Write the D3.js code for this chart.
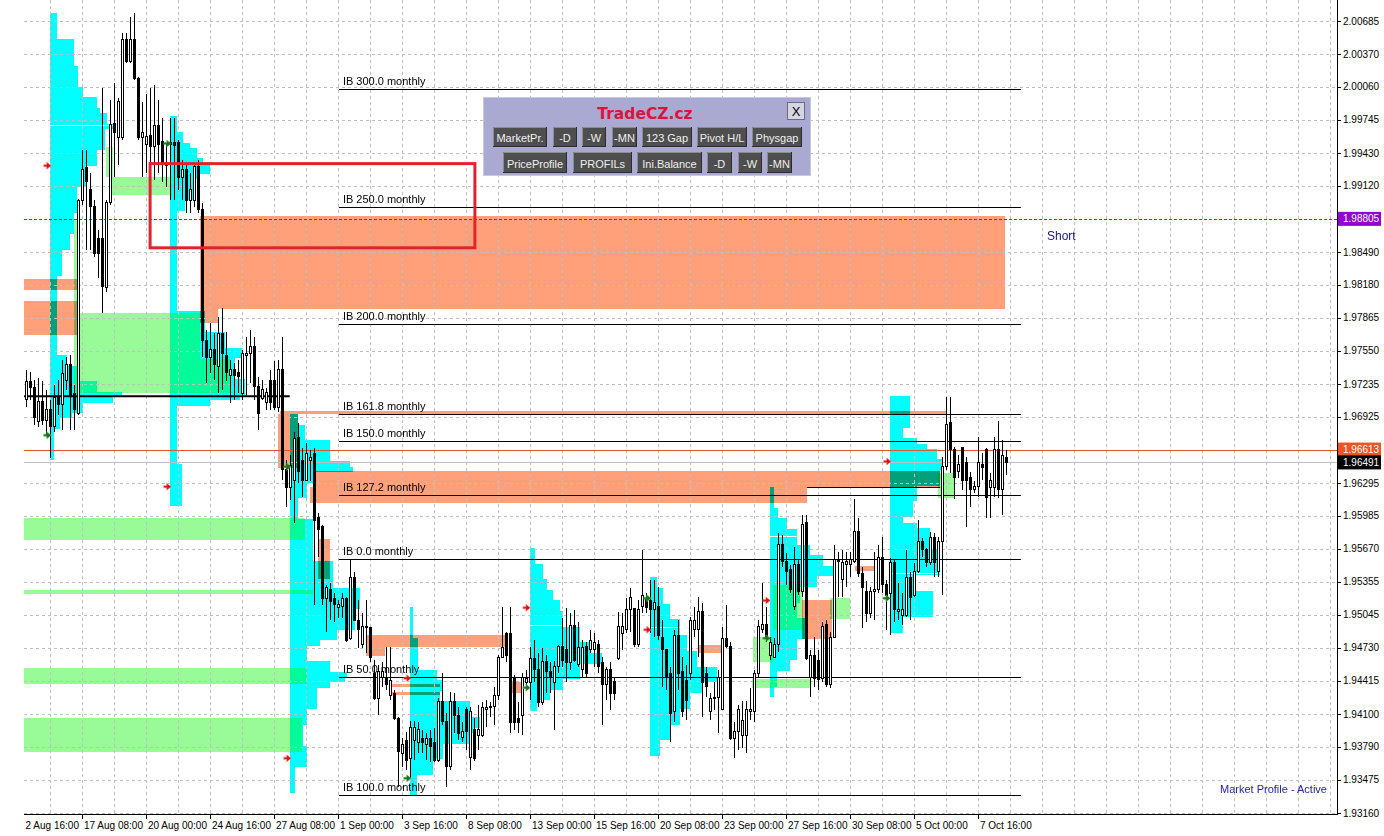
<!DOCTYPE html>
<html><head><meta charset="utf-8">
<script src="https://cdn.jsdelivr.net/npm/d3@7/dist/d3.min.js"></script>
<style>
html,body{margin:0;padding:0;background:#fff;}
svg{display:block;font-family:"Liberation Sans",Arial,sans-serif;}
</style></head><body>
<svg id="chart" width="1384" height="836"></svg>
<script>
// ---------------- DATA ----------------
const openP = [
1.9709,1.9726,1.9720,1.9688,1.9707,1.9689,1.9699,1.9683,1.9711,1.9704,
1.9727,1.9742,1.9715,1.9696,1.9898,1.9929,1.9908,1.9892,1.9862,1.9862,
1.9815,1.9896,1.9971,1.9958,1.9958,2.0051,2.0030,2.0051,2.0014,1.9958,
1.9951,1.9960,1.9949,1.9969,1.9954,1.9934,1.9953,1.9953,1.9953,1.9920,
1.9927,1.9898,1.9898,1.9930,1.9889,1.9765,1.9749,1.9756,1.9740,1.9772,
1.9751,1.9732,1.9737,1.9735,1.9715,1.9751,1.9753,1.9759,1.9721,1.9710,
1.9706,1.9727,1.9727,1.9701,1.9737,1.9642,1.9625,1.9632,1.9673,1.9651,
1.9632,1.9651,1.9658,1.9597,1.9588,1.9520,1.9528,1.9520,1.9511,1.9512,
1.9520,1.9482,1.9540,1.9499,1.9476,1.9493,1.9492,1.9449,1.9425,1.9445,
1.9445,1.9428,1.9430,1.9406,1.9373,1.9385,1.9368,1.9385,1.9383,1.9387,
1.9381,1.9387,1.9383,1.9366,1.9422,1.9403,1.9360,1.9422,1.9409,1.9388,
1.9414,1.9369,1.9395,1.9390,1.9390,1.9414,1.9416,1.9417,1.9428,1.9464,
1.9487,1.9487,1.9445,1.9406,1.9409,1.9440,1.9440,1.9463,1.9452,1.9421,
1.9460,1.9450,1.9440,1.9455,1.9474,1.9471,1.9459,1.9494,1.9457,1.9452,
1.9474,1.9471,1.9471,1.9476,1.9459,1.9438,1.9452,1.9441,1.9463,1.9487,
1.9490,1.9509,1.9510,1.9476,1.9512,1.9520,1.9518,1.9509,1.9512,1.9483,
1.9471,1.9449,1.9412,1.9485,1.9450,1.9442,1.9449,1.9490,1.9490,1.9507,
1.9449,1.9412,1.9425,1.9426,1.9414,1.9482,1.9474,1.9387,1.9393,1.9390,
1.9390,1.9412,1.9412,1.9449,1.9490,1.9495,1.9466,1.9464,1.9476,1.9571,
1.9555,1.9547,1.9512,1.9552,1.9526,1.9592,1.9445,1.9466,1.9461,1.9444,
1.9495,1.9438,1.9483,1.9557,1.9538,1.9552,1.9552,1.9555,1.9583,1.9544,
1.9526,1.9506,1.9526,1.9528,1.9559,1.9533,1.9525,1.9554,1.9507,1.9504,
1.9504,1.9540,1.9523,1.9545,1.9574,1.9566,1.9554,1.9578,1.9545,1.9574,
1.9645,1.9687,1.9661,1.9640,1.9663,1.9649,1.9635,1.9623,1.9626,1.9647,
1.9661,1.9625,1.9625,1.9661,1.9623,1.9654];
const highP = [
1.9737,1.9735,1.9727,1.9729,1.9726,1.9718,1.9708,1.9723,1.9727,1.9746,
1.9749,1.9751,1.9723,1.9899,1.9946,1.9946,1.9924,1.9898,1.9870,2.0005,
1.9898,1.9993,2.0010,1.9995,2.0057,2.0057,2.0072,2.0076,2.0015,1.9992,
1.9999,2.0005,2.0008,1.9993,1.9976,1.9953,1.9976,1.9976,1.9955,1.9936,
1.9934,1.9924,1.9934,1.9936,1.9896,1.9775,1.9782,1.9772,1.9787,1.9796,
1.9773,1.9746,1.9744,1.9746,1.9756,1.9768,1.9775,1.9768,1.9730,1.9727,
1.9720,1.9737,1.9745,1.9746,1.9768,1.9651,1.9656,1.9678,1.9687,1.9663,
1.9668,1.9661,1.9663,1.9601,1.9590,1.9533,1.9535,1.9525,1.9518,1.9525,
1.9521,1.9556,1.9545,1.9518,1.9506,1.9518,1.9493,1.9461,1.9457,1.9459,
1.9474,1.9474,1.9433,1.9407,1.9387,1.9393,1.9403,1.9403,1.9402,1.9395,
1.9392,1.9395,1.9397,1.9425,1.9449,1.9411,1.9431,1.9430,1.9417,1.9402,
1.9417,1.9417,1.9406,1.9419,1.9421,1.9423,1.9421,1.9436,1.9466,1.9512,
1.9488,1.9512,1.9447,1.9421,1.9449,1.9452,1.9474,1.9480,1.9468,1.9473,
1.9466,1.9459,1.9460,1.9476,1.9501,1.9511,1.9506,1.9509,1.9497,1.9480,
1.9478,1.9490,1.9487,1.9480,1.9464,1.9455,1.9459,1.9445,1.9507,1.9506,
1.9520,1.9530,1.9511,1.9518,1.9566,1.9525,1.9537,1.9537,1.9531,1.9499,
1.9471,1.9455,1.9490,1.9499,1.9464,1.9457,1.9502,1.9512,1.9521,1.9516,
1.9455,1.9430,1.9440,1.9452,1.9493,1.9514,1.9478,1.9402,1.9419,1.9422,
1.9422,1.9435,1.9452,1.9499,1.9535,1.9512,1.9483,1.9482,1.9582,1.9580,
1.9563,1.9552,1.9569,1.9556,1.9599,1.9599,1.9471,1.9483,1.9471,1.9497,
1.9499,1.9488,1.9571,1.9564,1.9566,1.9564,1.9564,1.9614,1.9596,1.9550,
1.9536,1.9531,1.9564,1.9571,1.9578,1.9537,1.9558,1.9556,1.9535,1.9525,
1.9566,1.9545,1.9554,1.9594,1.9577,1.9568,1.9583,1.9582,1.9578,1.9654,
1.9711,1.9711,1.9664,1.9656,1.9664,1.9654,1.9640,1.9631,1.9673,1.9658,
1.9663,1.9639,1.9673,1.9688,1.9670,1.9661];
const lowP = [
1.9702,1.9708,1.9685,1.9683,1.9685,1.9675,1.9653,1.9678,1.9694,1.9680,
1.9718,1.9680,1.9680,1.9694,1.9894,1.9851,1.9851,1.9844,1.9824,1.9791,
1.9811,1.9894,1.9920,1.9932,1.9955,2.0029,2.0029,2.0012,1.9955,1.9920,
1.9924,1.9934,1.9917,1.9924,1.9916,1.9911,1.9898,1.9898,1.9908,1.9898,
1.9886,1.9886,1.9892,1.9886,1.9749,1.9725,1.9734,1.9727,1.9715,1.9718,
1.9726,1.9706,1.9708,1.9715,1.9708,1.9711,1.9725,1.9708,1.9680,1.9708,
1.9699,1.9699,1.9699,1.9697,1.9632,1.9607,1.9613,1.9592,1.9630,1.9616,
1.9631,1.9631,1.9514,1.9559,1.9514,1.9488,1.9499,1.9497,1.9501,1.9501,
1.9478,1.9480,1.9498,1.9473,1.9473,1.9468,1.9459,1.9423,1.9409,1.9436,
1.9433,1.9423,1.9404,1.9341,1.9360,1.9357,1.9349,1.9366,1.9373,1.9373,
1.9366,1.9364,1.9364,1.9364,1.9400,1.9341,1.9357,1.9392,1.9385,1.9383,
1.9376,1.9357,1.9365,1.9376,1.9388,1.9398,1.9407,1.9400,1.9423,1.9464,
1.9459,1.9392,1.9395,1.9392,1.9390,1.9433,1.9423,1.9440,1.9417,1.9419,
1.9430,1.9430,1.9395,1.9449,1.9455,1.9440,1.9452,1.9459,1.9455,1.9445,
1.9445,1.9468,1.9455,1.9449,1.9400,1.9423,1.9414,1.9423,1.9461,1.9471,
1.9487,1.9488,1.9474,1.9474,1.9506,1.9506,1.9487,1.9483,1.9480,1.9436,
1.9433,1.9383,1.9402,1.9433,1.9407,1.9404,1.9442,1.9483,1.9464,1.9407,
1.9426,1.9404,1.9414,1.9392,1.9414,1.9473,1.9385,1.9368,1.9376,1.9378,
1.9373,1.9404,1.9402,1.9445,1.9487,1.9478,1.9461,1.9464,1.9469,1.9550,
1.9533,1.9525,1.9509,1.9523,1.9521,1.9461,1.9426,1.9436,1.9433,1.9440,
1.9436,1.9435,1.9482,1.9521,1.9521,1.9531,1.9540,1.9554,1.9540,1.9492,
1.9497,1.9501,1.9499,1.9525,1.9525,1.9490,1.9485,1.9497,1.9499,1.9495,
1.9502,1.9499,1.9521,1.9544,1.9559,1.9550,1.9552,1.9540,1.9540,1.9523,
1.9642,1.9639,1.9614,1.9634,1.9623,1.9588,1.9607,1.9620,1.9616,1.9632,
1.9596,1.9596,1.9616,1.9615,1.9599,1.9637];
const closeP = [
1.9726,1.9720,1.9692,1.9707,1.9689,1.9699,1.9683,1.9711,1.9704,1.9734,
1.9742,1.9713,1.9699,1.9898,1.9927,1.9916,1.9892,1.9848,1.9848,1.9816,
1.9896,1.9970,1.9963,1.9992,2.0051,2.0030,2.0051,2.0014,1.9958,1.9963,
1.9959,1.9949,1.9969,1.9951,1.9934,1.9931,1.9951,1.9950,1.9920,1.9927,
1.9898,1.9908,1.9930,1.9889,1.9765,1.9749,1.9756,1.9742,1.9772,1.9753,
1.9735,1.9737,1.9732,1.9731,1.9753,1.9753,1.9759,1.9721,1.9696,1.9718,
1.9716,1.9706,1.9701,1.9737,1.9642,1.9625,1.9646,1.9672,1.9640,1.9632,
1.9658,1.9654,1.9594,1.9585,1.9520,1.9530,1.9517,1.9514,1.9514,1.9520,
1.9480,1.9540,1.9499,1.9490,1.9493,1.9492,1.9464,1.9425,1.9450,1.9450,
1.9438,1.9442,1.9406,1.9374,1.9381,1.9366,1.9397,1.9397,1.9395,1.9383,
1.9387,1.9379,1.9366,1.9422,1.9403,1.9360,1.9422,1.9409,1.9392,1.9393,
1.9393,1.9412,1.9368,1.9395,1.9416,1.9416,1.9417,1.9428,1.9464,1.9473,
1.9466,1.9402,1.9402,1.9402,1.9445,1.9444,1.9463,1.9452,1.9421,1.9460,
1.9450,1.9445,1.9455,1.9474,1.9461,1.9459,1.9494,1.9461,1.9473,1.9473,
1.9449,1.9480,1.9478,1.9455,1.9438,1.9452,1.9430,1.9430,1.9493,1.9493,
1.9509,1.9521,1.9476,1.9509,1.9523,1.9511,1.9509,1.9516,1.9485,1.9471,
1.9445,1.9411,1.9485,1.9449,1.9412,1.9423,1.9499,1.9499,1.9507,1.9440,
1.9436,1.9425,1.9426,1.9445,1.9482,1.9474,1.9387,1.9393,1.9414,1.9404,
1.9414,1.9414,1.9449,1.9493,1.9495,1.9483,1.9478,1.9476,1.9571,1.9555,
1.9545,1.9528,1.9552,1.9526,1.9590,1.9463,1.9466,1.9444,1.9443,1.9493,
1.9438,1.9483,1.9557,1.9555,1.9554,1.9555,1.9557,1.9583,1.9544,1.9530,
1.9506,1.9526,1.9528,1.9559,1.9533,1.9523,1.9554,1.9509,1.9509,1.9509,
1.9540,1.9521,1.9545,1.9574,1.9566,1.9554,1.9578,1.9554,1.9574,1.9645,
1.9685,1.9661,1.9635,1.9647,1.9632,1.9632,1.9623,1.9626,1.9649,1.9644,
1.9616,1.9632,1.9661,1.9623,1.9656,1.9649];

// time axis labels (one every 16 H4 bars, first one at bar -2)
const timeLabels = ["12 Aug 16:00","17 Aug 08:00","20 Aug 00:00","24 Aug 16:00","27 Aug 08:00",
  "1 Sep 00:00","3 Sep 16:00","8 Sep 08:00","13 Sep 00:00","15 Sep 16:00","20 Sep 08:00",
  "23 Sep 00:00","27 Sep 16:00","30 Sep 08:00","5 Oct 00:00","7 Oct 16:00"];
const timeLabelBars = [-2,14,30,46,62,78,94,110,126,142,158,174,190,206,222,238];

// price axis ticks
const priceTicks = [2.00685,2.00370,2.00060,1.99745,1.99430,1.99120,1.98805,1.98490,1.98180,
  1.97865,1.97550,1.97235,1.96925,1.96610,1.96295,1.95985,1.95670,1.95355,1.95045,1.94730,
  1.94415,1.94100,1.93790,1.93475,1.93160];

// market profiles (start bar, top price, run-length widths in bars per 0.0005 row)
const profileStarts = [5.8, 35.8, 65.8, 95.8, 125.8, 155.8, 185.8, 215.8];
const profileTops = [2.0076, 1.9978, 1.9695, 1.9512, 1.9568, 1.9540, 1.9626, 1.9712];
const profileStep = 0.0005;
const profile1 = [[1.75,5],[6,5],[7,4],[8.25,2],[11.75,2],[12.5,1],[14.25,2],[15.75,1],[13.75,4],[11.75,3],[9.25,4],[6.75,5],[6,4],[5,3],[3,5],[1.75,15],[4.25,2],[7.5,3],[11.75,2],[18,1],[15.75,1],[8.25,2],[5.5,1],[2.5,2],[1,6]];
const profile2 = [[1.75,3],[3.25,2],[5,1],[6.75,2],[8.25,1],[10,2],[7.5,1],[5.75,4],[3.75,2],[1.75,19],[8.75,4],[13.75,3],[18,2],[16.25,4],[18.75,3],[17.5,1],[10,1],[1.75,11],[3,8]];
const profile3 = [[2,2],[3.75,3],[10,4],[15,1],[15.75,1],[5.75,2],[4.25,3],[2,4],[5.75,8],[10.75,5],[17.5,4],[16.25,4],[11.75,2],[7.5,1],[4.25,3],[10,2],[14.25,1],[13.75,1],[10,1],[6.75,4],[4.25,3],[3.25,4],[4.25,4],[1.25,5]];
const profile4 = [[0.75,6],[2,6],[6.75,2],[8.25,2],[7.5,2],[15,3],[17.5,2],[16.25,1],[15,2],[8.25,3],[5.75,3],[1.75,4]];
const profile5 = [[1.25,3],[3.25,3],[4.25,2],[5.75,2],[7.5,2],[8.25,3],[12.5,3],[15,2],[18,2],[12.5,3],[8.25,2],[5,2],[1.75,2]];
const profile6 = [[1.75,2],[3.25,3],[5,3],[7.5,3],[9.25,3],[11.75,3],[16.75,3],[13.25,2],[10,3],[7.5,3],[5,3],[2.5,3]];
const profile7 = [[1,4],[2,2],[4.25,2],[6.75,3],[10,2],[13.25,2],[15.75,2],[11.75,2],[7.5,3],[6.75,3],[9.25,4],[6.75,4],[5,2],[1.75,3],[1,2]];
const profile8 = [[5,6],[3.25,2],[6.75,1],[9.25,1],[11.75,2],[13.25,2],[12.5,3],[6.75,3],[5.75,3],[3.25,1],[6.75,1],[10,4],[11.75,2],[12.5,3],[5.75,3],[10.75,5],[3.25,3]];
const pocLines = [[0,1.9970],[4,1.9495],[5,1.9493],[6,1.9579],[7,1.9544]];

// zones: [bar from, bar to, price top, price bottom]
const salmonZones = [
 [43.3,244.6,1.9883,1.9795],[43.3,47.8,1.9795,1.9782],
 [-0.7,12.6,1.9823,1.9813],[-0.7,12.6,1.9802,1.9770],
 [63.3,230.1,1.96976,1.96947],[62.8,67.8,1.9695,1.9644],
 [72.1,228.3,1.9641,1.9626],[70.8,195.1,1.9626,1.9611],
 [72.8,75.8,1.9576,1.9538],[84.8,119.6,1.9485,1.9474],[84.8,89.6,1.9474,1.9465],
 [90.8,103.3,1.9439,1.9436],[90.8,103.3,1.9431,1.9428],[120.8,124.1,1.9440,1.9430],
 [167.8,173.8,1.9476,1.9468],[193.8,201.3,1.9518,1.9481],[207.1,211.8,1.9551,1.9546]];
const greenZones = [
 [20.8,36.3,1.9920,1.9903],[19.8,21.6,1.9949,1.9920],[11.8,13.3,1.9880,1.9791],
 [11.8,43.3,1.9791,1.9747],[11.8,50.8,1.9747,1.9715],
 [-0.7,69.6,1.9596,1.9575],[-0.7,71.6,1.9528,1.9524],[-0.7,70.1,1.9454,1.9439],[-0.7,68.8,1.9406,1.9374],
 [181.3,195.8,1.9443,1.9435],[181.6,186.6,1.9483,1.9459],[186.6,194.1,1.9533,1.9490],
 [200.8,205.8,1.9520,1.9500],[227.8,231.8,1.9639,1.9615]];

// initial balance levels
const ibLabels = ["IB 300.0 monthly","IB 250.0 monthly","IB 200.0 monthly","IB 161.8 monthly",
  "IB 150.0 monthly","IB 127.2 monthly","IB 0.0 monthly","IB 50.0 monthly","IB 100.0 monthly"];
const ibPrices = [2.0004,1.9892,1.9781,1.9695,1.9669,1.9618,1.95575,1.9445,1.9333];
const ibFromBar = 78.1, ibToBar = 248.6;

// other lines
const pocBlack = [-0.7, 65.8, 1.9712];
const shortLine = [195.1, 228.4, 1.96259];
const shortPrice = 1.98805, askPrice = 1.96613, bidPrice = 1.96491;
const redBox = [30.9, 112.1, 1.9933, 1.9853];

// arrows [bar, price]
const redArrows = [[5.3,1.9931],[35.3,1.9626],[65.3,1.9368],[95.3,1.9444],[125.1,1.9511],[155.3,1.9490],[185.1,1.9518],[215.3,1.9650]];
const greenArrows = [[5.3,1.9675],[35.3,1.9952],[65.3,1.9645],[95.3,1.9349],[125.1,1.9435],[155.3,1.9520],[185.1,1.9482],[215.1,1.9520]];

// panel buttons
const buttonsRow1 = ["MarketPr.","-D","-W","-MN","123 Gap","Pivot H/L","Physgap"];
const buttonsRow2 = ["PriceProfile","PROFILs","Ini.Balance","-D","-W","-MN"];

// ---------------- DRAW ----------------
const W = 1384, H = 836;
const PL = 24, PR = 1337, PB = 814;
const x = d3.scaleLinear().domain([0,245]).range([26.5,1006.5]);
const y = d3.scaleLinear().domain([1.93160,2.00685]).range([813,21]);
const rle = a => a.flatMap(([v,n]) => Array(n).fill(v));
const py = p => Math.round(y(p)) + 0.5;

const svg = d3.select('#chart');
svg.append('rect').attr('width',W).attr('height',H).attr('fill','#fff');
const defs = svg.append('defs');
defs.append('clipPath').attr('id','pc').append('rect').attr('x',PL).attr('y',0).attr('width',PR-PL).attr('height',PB);
defs.append('clipPath').attr('id','ac').append('rect').attr('x',PL+1).attr('y',PB).attr('width',W-PL).attr('height',H-PB);

const plot = svg.append('g').attr('clip-path','url(#pc)');
plot.append('rect').attr('x',PL).attr('y',0).attr('width',PR-PL).attr('height',PB).attr('fill','#fff');

function zoneRects(g, data, color){
  g.selectAll('rect').data(data).join('rect')
    .attr('x', d=>x(d[0])).attr('width', d=>x(d[1])-x(d[0]))
    .attr('y', d=>y(d[2])).attr('height', d=>y(d[3])-y(d[2]))
    .attr('fill', color);
}
const sg = plot.append('g').attr('shape-rendering','crispEdges');
zoneRects(sg, salmonZones, '#FFA07A');
const gg = plot.append('g').attr('shape-rendering','crispEdges').style('mix-blend-mode','multiply');
zoneRects(gg, greenZones, '#98FB98');

const profiles = [profile1,profile2,profile3,profile4,profile5,profile6,profile7,profile8].map(rle);
const profRows = [];
profiles.forEach((rows,j)=>rows.forEach((w,k)=>profRows.push({
  x0: profileStarts[j], x1: profileStarts[j]+w,
  p0: profileTops[j]-k*profileStep, p1: profileTops[j]-(k+1)*profileStep})));
const cyg = plot.append('g').attr('shape-rendering','crispEdges').style('mix-blend-mode','multiply');
cyg.selectAll('rect').data(profRows).join('rect')
  .attr('x',d=>x(d.x0)).attr('width',d=>x(d.x1)-x(d.x0))
  .attr('y',d=>y(d.p0)).attr('height',d=>y(d.p1)-y(d.p0)).attr('fill','#00FFFF');

plot.append('g').selectAll('line').data(pocLines).join('line')
  .attr('x1',d=>x(profileStarts[d[0]]))
  .attr('x2',d=>{const k=Math.floor((profileTops[d[0]]-d[1])/profileStep);return x(profileStarts[d[0]]+(profiles[d[0]][k]||0));})
  .attr('y1',d=>py(d[1])).attr('y2',d=>py(d[1]))
  .attr('stroke','#fff').attr('stroke-width',1);

// grid (the rows hidden under the price-marker lines are skipped)
const grid = plot.append('g').attr('stroke','#c0c0c0').attr('stroke-dasharray','3,3').attr('stroke-width',1);
grid.selectAll('line.h').data(priceTicks.filter(p=>Math.abs(p-shortPrice)>1e-6 && Math.abs(p-1.96610)>1e-6)).join('line').attr('class','h')
  .attr('x1',PL).attr('x2',PR).attr('y1',d=>py(d)).attr('y2',d=>py(d));
const vBars = d3.range(-2, 330, 8);
grid.selectAll('line.v').data(vBars).join('line').attr('class','v')
  .attr('x1',d=>x(d)).attr('x2',d=>x(d)).attr('y1',0).attr('y2',PB);

// horizontal level lines
const lv = plot.append('g');
lv.append('line').attr('x1',PL).attr('x2',PR).attr('y1',py(bidPrice)).attr('y2',py(bidPrice)).attr('stroke','#c0c0c0');
lv.append('line').attr('x1',PL).attr('x2',PR).attr('y1',py(askPrice)).attr('y2',py(askPrice)).attr('stroke','#e0582a');
lv.append('line').attr('x1',PL).attr('x2',PR).attr('y1',py(shortPrice)).attr('y2',py(shortPrice))
  .attr('stroke','#9a10e8').attr('stroke-dasharray','3,2').attr('shape-rendering','crispEdges');
lv.selectAll('line.ib').data(ibPrices).join('line').attr('class','ib')
  .attr('x1',x(ibFromBar)).attr('x2',x(ibToBar)).attr('y1',d=>py(d)).attr('y2',d=>py(d))
  .attr('stroke','#000');
lv.selectAll('text.ib').data(ibPrices).join('text').attr('class','ib')
  .attr('x',x(ibFromBar)+4).attr('y',d=>y(d)-4).attr('font-size',11).attr('fill','#000')
  .text((d,i)=>ibLabels[i]);
lv.append('line').attr('x1',x(pocBlack[0])).attr('x2',x(pocBlack[1])).attr('y1',y(pocBlack[2])).attr('y2',y(pocBlack[2])).attr('stroke','#000').attr('stroke-width',2);
lv.append('line').attr('x1',x(shortLine[0])).attr('x2',x(shortLine[1])).attr('y1',py(shortLine[2])).attr('y2',py(shortLine[2])).attr('stroke','#000');

// candles
const n = Math.min(openP.length, highP.length, lowP.length, closeP.length);
const bars = d3.range(n);
const cg = plot.append('g').attr('shape-rendering','crispEdges');
cg.selectAll('line.wick').data(bars).join('line').attr('class','wick')
  .attr('x1',i=>x(i)).attr('x2',i=>x(i)).attr('y1',i=>y(highP[i])).attr('y2',i=>y(lowP[i])).attr('stroke','#000');
cg.selectAll('rect.body').data(bars).join('rect').attr('class','body')
  .attr('x',i=>x(i)-1).attr('width',2)
  .attr('y',i=>y(Math.max(openP[i],closeP[i])))
  .attr('height',i=>Math.max(0.6,Math.abs(y(openP[i])-y(closeP[i]))))
  .attr('fill',i=>closeP[i]>=openP[i]?'#fff':'#000').attr('stroke','#000').attr('stroke-width',1);

// arrows
const arrowPath = 'M-4,-1 L-1,-1 L-1,-3.5 L3.5,0 L-1,3.5 L-1,1 L-4,1 Z';
const ag = plot.append('g');
ag.selectAll('path.r').data(redArrows).join('path').attr('class','r')
  .attr('transform',d=>`translate(${x(d[0])},${y(d[1])})`).attr('d',arrowPath).attr('fill','#e01010').attr('stroke','#ff8080').attr('stroke-width',0.5);
ag.selectAll('path.g').data(greenArrows).join('path').attr('class','g')
  .attr('transform',d=>`translate(${x(d[0])},${y(d[1])})`).attr('d',arrowPath).attr('fill','#107a10').attr('stroke','#60b060').attr('stroke-width',0.5);

// red rectangle
plot.append('rect').attr('x',x(redBox[0])).attr('y',y(redBox[2]))
  .attr('width',x(redBox[1])-x(redBox[0])).attr('height',y(redBox[3])-y(redBox[2]))
  .attr('fill','none').attr('stroke','#e3232b').attr('stroke-width',3);

// texts
plot.append('text').attr('x',1047).attr('y',240).attr('font-size',12).attr('fill','#16167c').text('Short');
plot.append('text').attr('x',1327).attr('y',793).attr('text-anchor','end').attr('font-size',11).attr('fill','#2222b0').text('Market Profile - Active');

// axes
svg.append('line').attr('x1',PR+0.5).attr('x2',PR+0.5).attr('y1',0).attr('y2',PB+1).attr('stroke','#000');
svg.append('line').attr('x1',PL).attr('x2',PR+1).attr('y1',PB+0.5).attr('y2',PB+0.5).attr('stroke','#000');
const ya = svg.append('g');
ya.selectAll('line').data(priceTicks).join('line')
  .attr('x1',PR).attr('x2',PR+4).attr('y1',d=>py(d)).attr('y2',d=>py(d)).attr('stroke','#000');
ya.selectAll('text').data(priceTicks).join('text')
  .attr('x',PR+6).attr('y',d=>y(d)+3.5).attr('font-size',10).attr('fill','#000').text(d=>d.toFixed(5));
const xa = svg.append('g').attr('clip-path','url(#ac)');
xa.selectAll('line').data(timeLabelBars).join('line')
  .attr('x1',d=>x(d)).attr('x2',d=>x(d)).attr('y1',PB).attr('y2',PB+5).attr('stroke','#000');
xa.selectAll('text').data(timeLabelBars).join('text')
  .attr('x',d=>x(d)+1.5).attr('y',829).attr('font-size',10).attr('fill','#000').text((d,i)=>timeLabels[i]);

// price markers
const markers = [[shortPrice,'#9400D3'],[askPrice,'#ee5522'],[bidPrice,'#000000']];
const mg = svg.append('g');
markers.forEach(([p,c])=>{
  mg.append('rect').attr('x',PR+1).attr('y',y(p)-7).attr('width',43).attr('height',14).attr('fill',c);
  mg.append('text').attr('x',PR+6).attr('y',y(p)+3.5).attr('font-size',10).attr('fill','#fff').text(p.toFixed(5));
});

// control panel
const panel = svg.append('g');
panel.append('rect').attr('x',483.5).attr('y',97.5).attr('width',327).attr('height',78).attr('fill','#a9a9d1').attr('stroke','#c8c8e6');
panel.append('text').attr('x',645).attr('y',119).attr('text-anchor','middle')
  .attr('font-family','"DejaVu Sans",sans-serif').attr('font-weight','bold').attr('font-size',15.5).attr('fill','#dc143c').text('TradeCZ.cz');
panel.append('rect').attr('x',787.5).attr('y',102.5).attr('width',17).attr('height',17).attr('fill','#d6d6e2').attr('stroke','#6a6a80');
panel.append('text').attr('x',796).attr('y',116).attr('text-anchor','middle').attr('font-size',13).attr('fill','#000').text('X');
const row1X = [[493,547],[553,577],[582,606],[612,637],[642,692],[697,747],[752,802]];
const row2X = [[503,567],[573,632],[637,702],[707,732],[738,762],[767,792]];
function drawButtons(labels, xs, y0, h){
  labels.forEach((t,i)=>{
    const [a,b] = xs[i];
    panel.append('rect').attr('x',a).attr('y',y0).attr('width',b-a).attr('height',h).attr('fill','#4e4e4e');
    panel.append('path').attr('d',`M${a+0.5},${y0+h} V${y0+0.5} H${b}`).attr('stroke','#8c8c8c').attr('fill','none');
    panel.append('path').attr('d',`M${a},${y0+h-0.5} H${b-0.5} V${y0}`).attr('stroke','#2c2c2c').attr('fill','none');
    panel.append('text').attr('x',(a+b)/2).attr('y',y0+h-5).attr('text-anchor','middle')
      .attr('font-size',11).attr('fill','#f0f0f0').text(t);
  });
}
drawButtons(buttonsRow1, row1X, 127, 20);
drawButtons(buttonsRow2, row2X, 152, 21);
</script>
</body></html>
